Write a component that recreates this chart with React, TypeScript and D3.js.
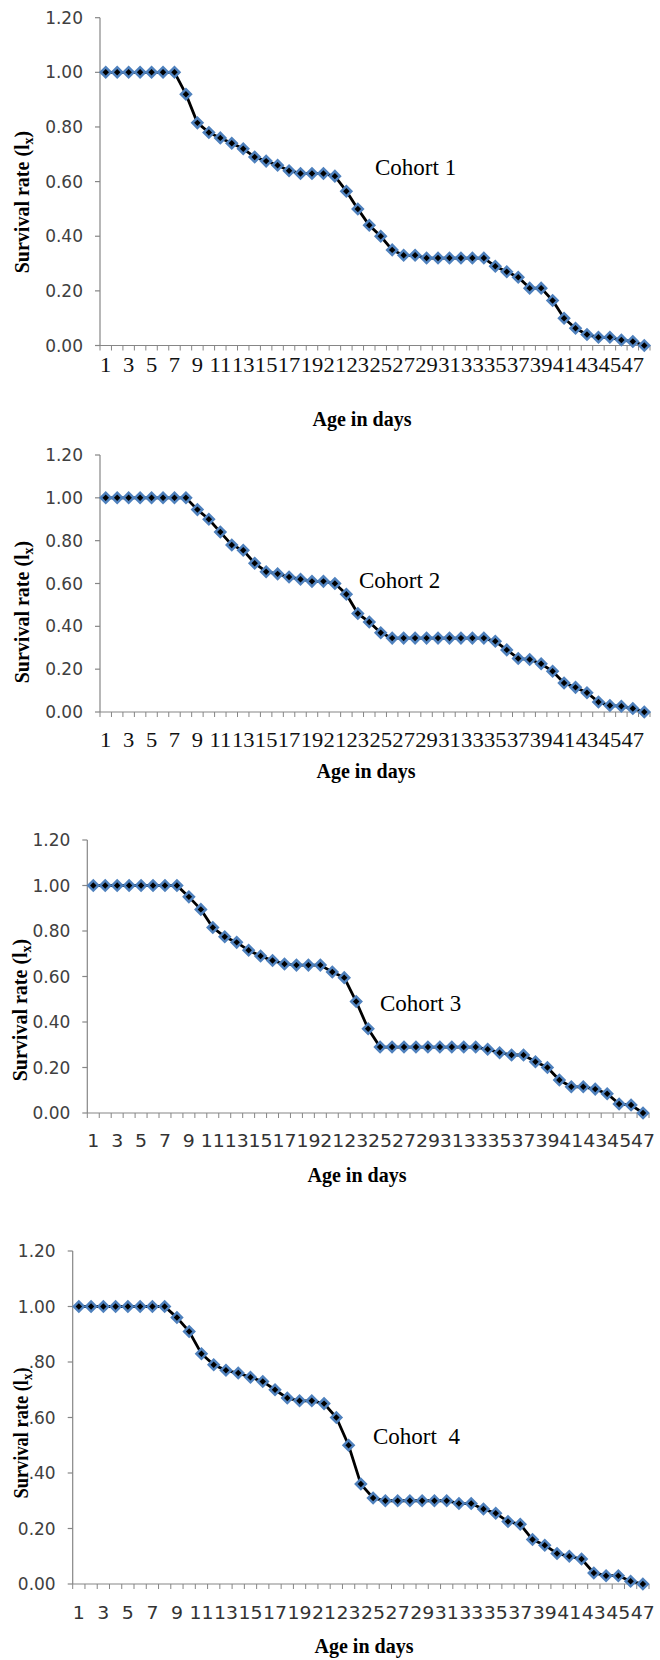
import React, { useEffect, useRef } from "react";
import * as d3 from "d3";

// Survival rate (lx) per day for each cohort
const cohort1 = [
  1, 1, 1, 1, 1, 1, 1, 0.92, 0.815, 0.78, 0.76, 0.74, 0.72, 0.69, 0.675, 0.66,
  0.64, 0.63, 0.63, 0.63, 0.62, 0.565, 0.5, 0.44, 0.4, 0.35, 0.33, 0.33, 0.32,
  0.32, 0.32, 0.32, 0.32, 0.32, 0.29, 0.27, 0.25, 0.21, 0.21, 0.165, 0.1, 0.063,
  0.04, 0.03, 0.03, 0.02, 0.015, 0,
];
const cohort2 = [
  1, 1, 1, 1, 1, 1, 1, 1, 0.945, 0.9, 0.84, 0.78, 0.755, 0.695, 0.655, 0.645,
  0.63, 0.62, 0.61, 0.61, 0.6, 0.55, 0.46, 0.42, 0.37, 0.345, 0.345, 0.345,
  0.345, 0.345, 0.345, 0.345, 0.345, 0.345, 0.33, 0.29, 0.25, 0.245, 0.225,
  0.19, 0.135, 0.115, 0.09, 0.047, 0.03, 0.027, 0.016, 0,
];
const cohort3 = [
  1, 1, 1, 1, 1, 1, 1, 1, 0.95, 0.895, 0.815, 0.775, 0.75, 0.715, 0.69, 0.67,
  0.655, 0.65, 0.65, 0.65, 0.62, 0.595, 0.49, 0.37, 0.29, 0.29, 0.29, 0.29,
  0.29, 0.29, 0.29, 0.29, 0.29, 0.28, 0.265, 0.255, 0.255, 0.225, 0.2, 0.145,
  0.115, 0.115, 0.105, 0.085, 0.04, 0.035, 0,
];
const cohort4 = [
  1, 1, 1, 1, 1, 1, 1, 1, 0.96, 0.91, 0.83, 0.79, 0.77, 0.76, 0.745, 0.73, 0.7,
  0.67, 0.66, 0.66, 0.65, 0.6, 0.5, 0.36, 0.31, 0.3, 0.3, 0.3, 0.3, 0.3, 0.3,
  0.29, 0.29, 0.27, 0.255, 0.225, 0.215, 0.16, 0.14, 0.11, 0.1, 0.09, 0.04,
  0.03, 0.03, 0.01, 0,
];

const days48 = d3.range(1, 49);
const days47 = d3.range(1, 48);
const yTicks = [0, 0.2, 0.4, 0.6, 0.8, 1.0, 1.2];
const cohortNames = ["Cohort 1", "Cohort 2", "Cohort 3", "Cohort  4"];

const WIDTH = 660;
const HEIGHT = 1660;

// panel layout (pixels)
const panels = [
  { days: days48, values: cohort1, left: 100, right: 650, top: 17.7, bottom: 345.5, tickY: 372, ageX: 362, ageY: 426, titleX: 29, titleY: 202, labelX: 375, labelY: 175, serifTicks: true, mask: false },
  { days: days48, values: cohort2, left: 100, right: 650, top: 455, bottom: 712, tickY: 747, ageX: 366, ageY: 778, titleX: 29, titleY: 612, labelX: 359, labelY: 588, serifTicks: true, mask: false },
  { days: days47, values: cohort3, left: 87.3, right: 649, top: 840, bottom: 1113, tickY: 1147, ageX: 357, ageY: 1182, titleX: 27, titleY: 1010, labelX: 380, labelY: 1011, serifTicks: false, mask: false },
  { days: days47, values: cohort4, left: 72.7, right: 649, top: 1251, bottom: 1584, tickY: 1619, ageX: 364, ageY: 1653, titleX: 28, titleY: 1433, labelX: 373, labelY: 1444, serifTicks: false, mask: true },
];

const App = () => {
  const svgRef = useRef<SVGSVGElement>(null);

  useEffect(() => {
    const svg = d3.select(svgRef.current);
    svg.selectAll("*").remove();
    svg.append("rect").attr("width", WIDTH).attr("height", HEIGHT).attr("fill", "#fff");

    const axisColor = "#868686";
    const markerPath = d3.symbol().type(d3.symbolSquare).size(50)();

    panels.forEach((p, idx) => {
      const g = svg.append("g");

      const x = d3.scaleBand<number>().domain(p.days).range([p.left, p.right]);
      const y = d3.scaleLinear().domain([0, 1.2]).range([p.bottom, p.top]);
      const bw = x.bandwidth();
      const cx = (d: number) => (x(d) as number) + bw / 2;

      // y axis
      g.append("line")
        .attr("x1", p.left).attr("x2", p.left)
        .attr("y1", y(1.2)).attr("y2", y(0))
        .attr("stroke", axisColor).attr("stroke-width", 1.2);
      yTicks.forEach((t) => {
        g.append("line")
          .attr("x1", p.left - 5).attr("x2", p.left)
          .attr("y1", y(t)).attr("y2", y(t))
          .attr("stroke", axisColor).attr("stroke-width", 1.2);
        g.append("text")
          .attr("x", p.left - 17)
          .attr("y", y(t))
          .attr("dy", "0.36em")
          .attr("text-anchor", "end")
          .style("font-family", "'DejaVu Sans', sans-serif")
          .style("font-size", "17px")
          .style("fill", "#404040")
          .text(d3.format(".2f")(t));
      });

      // x axis
      g.append("line")
        .attr("x1", p.left).attr("x2", p.right)
        .attr("y1", y(0)).attr("y2", y(0))
        .attr("stroke", axisColor).attr("stroke-width", 1.2);
      d3.range(p.days.length + 1).forEach((i) => {
        const tx = p.left + i * bw;
        g.append("line")
          .attr("x1", tx).attr("x2", tx)
          .attr("y1", y(0)).attr("y2", y(0) + 5)
          .attr("stroke", axisColor).attr("stroke-width", 1);
      });
      p.days.filter((d) => d % 2 === 1).forEach((d) => {
        g.append("text")
          .attr("transform", `translate(${cx(d)},${p.tickY}) scale(${p.serifTicks ? 1.13 : 1.08},1)`)
          .attr("text-anchor", "middle")
          .style("font-family", p.serifTicks ? "'Liberation Serif', serif" : "'DejaVu Sans', sans-serif")
          .style("font-size", p.serifTicks ? "20px" : "17.5px")
          .style("fill", p.serifTicks ? "#111" : "#333")
          .text(d);
      });

      // line + markers
      const line = d3.line<number>()
        .x((_, i) => cx(p.days[i]))
        .y((v) => y(v));
      g.append("path")
        .datum(p.values)
        .attr("d", line)
        .attr("fill", "none")
        .attr("stroke", "#000")
        .attr("stroke-width", 2.8);
      g.selectAll(".pt")
        .data(p.values)
        .enter()
        .append("path")
        .attr("d", markerPath)
        .attr("transform", (v, i) => `translate(${cx(p.days[i])},${y(v)}) rotate(45)`)
        .attr("fill", "#000")
        .attr("stroke", "#4f81bd")
        .attr("stroke-width", 2.5);

      // cohort label
      g.append("text")
        .attr("x", p.labelX)
        .attr("y", p.labelY)
        .style("font-family", "'Liberation Serif', serif")
        .style("font-size", "23px")
        .style("white-space", "pre")
        .style("fill", "#000")
        .text(cohortNames[idx]);

      // x title
      g.append("text")
        .attr("x", p.ageX)
        .attr("y", p.ageY)
        .attr("text-anchor", "middle")
        .style("font-family", "'Liberation Serif', serif")
        .style("font-size", "20px")
        .style("font-weight", "bold")
        .style("fill", "#000")
        .text("Age in days");

      // y title (the last one sits over the tick labels, hiding their first digit)
      if (p.mask) {
        g.append("rect")
          .attr("x", p.titleX - 16).attr("y", p.titleY - 82)
          .attr("width", 18).attr("height", 150)
          .attr("fill", "#fff");
      }
      const title = g.append("text")
        .attr("transform", `translate(${p.titleX},${p.titleY}) rotate(-90)${p.mask ? " scale(0.92,1)" : ""}`)
        .attr("text-anchor", "middle")
        .style("font-family", "'Liberation Serif', serif")
        .style("font-size", "20px")
        .style("font-weight", "bold")
        .style("fill", "#000");
      title.append("tspan").text("Survival rate (l");
      title.append("tspan").attr("dy", 4).style("font-size", "14px").text("x");
      title.append("tspan").attr("dy", -4).text(")");
    });
  }, []);

  return (
    <svg
      ref={svgRef}
      width={WIDTH}
      height={HEIGHT}
      style={{ position: "absolute", left: 0, top: 0, display: "block" }}
    />
  );
};

export default App;
